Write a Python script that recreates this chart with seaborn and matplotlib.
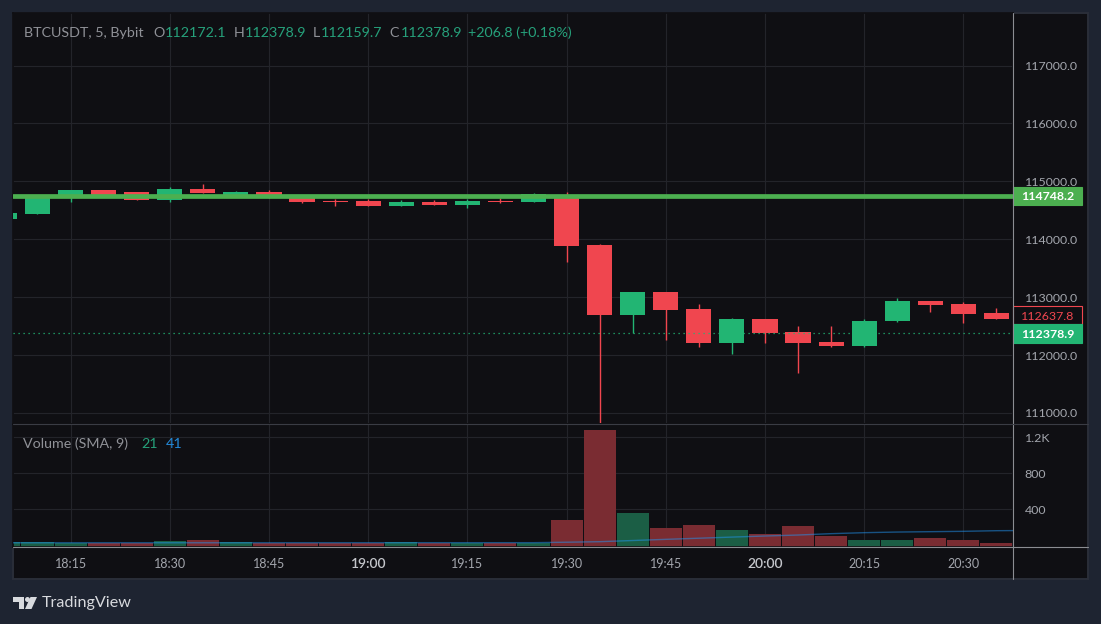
import matplotlib
matplotlib.use("Agg")
import matplotlib.pyplot as plt
from matplotlib.patches import Rectangle, Polygon, Circle
import pandas as pd
import seaborn as sns

W, H = 1101, 624

# 5 min candles, 18:05 to 20:35
opens = [114344, 114436, 114725, 114847, 114812, 114673, 114864, 114748, 114812, 114725, 114656,
         114656, 114569, 114638, 114586, 114656, 114638, 114760, 113893, 112697, 113096, 112801,
         112216, 112627, 112390, 112229, 112147, 112580, 112940, 112887, 112731]
highs = [114448, 114760, 114850, 114847, 114812, 114900, 114950, 114830, 114848, 114725, 114690,
         114690, 114672, 114672, 114690, 114708, 114790, 114807, 113923, 113096, 113096, 112887,
         112644, 112627, 112494, 112506, 112622, 112992, 112940, 112922, 112818]
lows = [114344, 114436, 114644, 114740, 114673, 114650, 114795, 114748, 114708, 114620, 114575,
        114569, 114569, 114586, 114535, 114630, 114638, 113604, 110819, 112378, 112263, 112130,
        112020, 112216, 111696, 112130, 112130, 112563, 112737, 112558, 112627]
closes = [114448, 114760, 114847, 114760, 114673, 114864, 114795, 114812, 114708, 114638, 114638,
          114569, 114638, 114586, 114656, 114638, 114777, 113881, 112697, 113096, 112783, 112216,
          112627, 112373, 112216, 112147, 112592, 112940, 112870, 112714, 112627]
volumes = [35, 39, 28, 24, 24, 53, 64, 42, 28, 24, 28, 28, 35, 28, 28, 24, 32, 283, 1286, 361, 198,
           228, 172, 128, 216, 105, 61, 61, 83, 61, 28]

sma_x = [0, 8, 16, 17, 18, 20, 22, 23, 24, 25, 26, 27, 28, 29, 30, 30.5]
sma_values = [30, 30, 31, 36, 42, 68, 93, 105, 116, 131, 142, 149, 153, 157, 164, 165]

price_ticks = [111000, 112000, 113000, 114000, 115000, 116000, 117000]
volume_ticks = [400, 800, 1200]
volume_labels = ["400", "800", "1.2K"]
time_ticks = [2, 5, 8, 11, 14, 17, 20, 23, 26, 29]
time_labels = ["18:15", "18:30", "18:45", "19:00", "19:15", "19:30", "19:45", "20:00", "20:15", "20:30"]

level_price = 114748.2
last_close = 112378.9
mark_price = 112637.8

BG = "#1e2431"
PANE = "#0f0f13"
GRID = "#23242a"
EDGE = "#2a2e39"
AXIS = "#8b8d92"
TEXT = "#a3a6ad"
GREEN = "#22b573"
RED = "#f0464f"
LEVEL = "#4caf50"

sns.set_theme(style="dark", rc={"figure.facecolor": BG, "axes.facecolor": PANE, "axes.edgecolor": PANE})
plt.rcParams["font.family"] = ["Lato", "DejaVu Sans"]


def pane_rect(left, top, right, bottom):
    return [left / W, 1 - bottom / H, (right - left) / W, (bottom - top) / H]


fig = plt.figure(figsize=(W / 100, H / 100), dpi=100)

# dark backing behind the panes and both axis strips
under = fig.add_axes([0, 0, 1, 1], facecolor="none", zorder=-1)
under.set_xlim(0, W)
under.set_ylim(H, 0)
under.axis("off")
under.add_patch(Rectangle((13, 13), 1075, 566, facecolor=PANE, edgecolor=EDGE, lw=1.4))

ax = fig.add_axes(pane_rect(13, 13, 1013, 423.5))
ax_vol = fig.add_axes(pane_rect(13, 423.5, 1013, 547))
xlim = (0.26, 30.5)

# candles
df = pd.DataFrame({"i": range(len(opens)), "open": opens, "high": highs, "low": lows,
                   "close": closes, "volume": volumes})
df["side"] = ["up" if c >= o else "down" for o, c in zip(df["open"], df["close"])]
colors = [GREEN if s == "up" else RED for s in df["side"]]
ax.vlines(df["i"], df["low"], df["high"], colors=colors, lw=1.0, zorder=2)
ax.bar(df["i"], (df["close"] - df["open"]).abs(), bottom=df[["open", "close"]].min(axis=1),
       width=0.76, color=colors, linewidth=0, zorder=3)

ax.axhline(last_close, color=GREEN, lw=0.9, ls=(0, (1, 3)), zorder=4)
ax.axhline(level_price, color=LEVEL, lw=3.4, zorder=5)

ax.set_xlim(*xlim)
ax.set_ylim(110817, 117907)
ax.set_xticks(time_ticks)
ax.set_xticklabels([])
ax.set_yticks(price_ticks)
ax.set_yticklabels([f"{p:.1f}" for p in price_ticks])
ax.yaxis.tick_right()
ax.tick_params(axis="y", length=0, pad=8.4, labelsize=8.9, labelcolor=TEXT)
ax.tick_params(axis="x", length=0)
ax.grid(True, color=GRID, lw=0.8)
ax.set_axisbelow(True)

# volume
sns.barplot(data=df, x="i", y="volume", hue="side", palette={"up": "#1b5e45", "down": "#7a2c32"},
            dodge=False, native_scale=True, width=0.97, linewidth=0, saturation=1, legend=False,
            ax=ax_vol, zorder=2)
vol_floor = -17
ax_vol.set_ylim(vol_floor, 1354)
for bar in ax_vol.patches:
    top = bar.get_height()
    bar.set_y(vol_floor)
    bar.set_height(top - vol_floor)
sns.lineplot(x=sma_x, y=sma_values, color="#2196f3", alpha=0.5, lw=1, ax=ax_vol, zorder=3)
ax_vol.set_xlim(*xlim)
ax_vol.set_xlabel("")
ax_vol.set_ylabel("")
ax_vol.set_yticks(volume_ticks)
ax_vol.set_yticklabels(volume_labels)
ax_vol.yaxis.tick_right()
ax_vol.set_xticks(time_ticks)
ax_vol.set_xticklabels(time_labels)
ax_vol.tick_params(axis="y", length=0, pad=8.4, labelsize=8.9, labelcolor=TEXT)
ax_vol.tick_params(axis="x", length=0, pad=8, labelsize=9.0, labelcolor=TEXT)
for lab in ax_vol.get_xticklabels():
    if lab.get_text().endswith(":00"):
        lab.set_fontweight("semibold")
        lab.set_fontsize(10.0)
        lab.set_color("#c4c6cb")
ax_vol.grid(True, color=GRID, lw=0.8)
ax_vol.set_axisbelow(True)


# price tags on the axis
def price_tag(value, face, edge, txt, shift=0):
    trans = ax.get_yaxis_transform()
    centre = value + shift
    ax.add_patch(Rectangle((1.0, centre - 160), 0.069, 320, transform=trans, facecolor=face,
                           edgecolor=edge, lw=0.8, clip_on=False, zorder=6))
    ax.text(1.0345, centre, f"{value:.1f}", transform=trans, color=txt, ha="center", va="center_baseline",
            fontsize=8.9, fontweight="bold" if face != PANE else "normal", clip_on=False, zorder=7)


price_tag(level_price, LEVEL, LEVEL, "white")
price_tag(mark_price, PANE, RED, RED, shift=50)
price_tag(last_close, GREEN, GREEN, "white", shift=-5)

# separators, header, legend and logo in pixel coords
over = fig.add_axes([0, 0, 1, 1], facecolor="none")
over.set_xlim(0, W)
over.set_ylim(H, 0)
over.axis("off")
over.plot([1013, 1013], [13, 579], color=AXIS, lw=0.8)
over.plot([13, 1088], [547, 547], color=AXIS, lw=0.8)
over.plot([13, 1088], [423.5, 423.5], color="#3a3c44", lw=0.8)

gray = "#8f9197"
head_green = "#26a17b"
header = [(23.5, "BTCUSDT, 5, Bybit", gray), (153, "O", gray), (165, "112172.1", head_green),
          (233.5, "H", gray), (245, "112378.9", head_green), (312.5, "L", gray),
          (320.5, "112159.7", head_green), (389.5, "C", gray), (400.5, "112378.9", head_green),
          (468.5, "+206.8 (+0.18%)", head_green)]
for x, s, c in header:
    over.text(x, 33, s, color=c, fontsize=10.3, ha="left", va="center")

over.text(23, 444, "Volume (SMA, 9)", color=gray, fontsize=10.3, ha="left", va="center")
over.text(141.5, 444, "21", color=head_green, fontsize=10.3, ha="left", va="center")
over.text(166, 444, "41", color="#2389d8", fontsize=10.3, ha="left", va="center")

logo = "#d8dade"
over.add_patch(Polygon([(13, 597), (24, 597), (24, 609), (18.5, 609), (18.5, 602), (13, 602)], color=logo, lw=0))
over.add_patch(Circle((27.5, 599.5), 2.5, color=logo, lw=0))
over.add_patch(Polygon([(30.5, 597), (37, 597), (31.5, 609), (25, 609)], color=logo, lw=0))
over.text(42, 602.5, "TradingView", color=logo, fontsize=11.6, ha="left", va="center")

fig.savefig("out.png", dpi=100, facecolor=BG)
